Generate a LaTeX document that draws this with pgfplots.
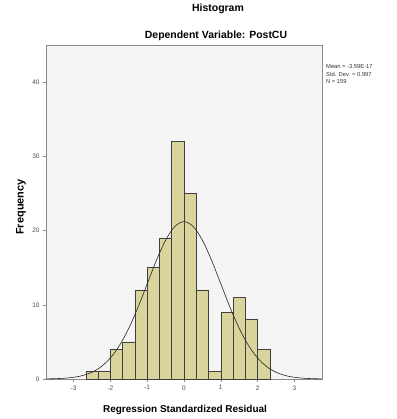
\documentclass[border=0pt]{standalone}
\usepackage{pgfplots}
\pgfplotsset{compat=1.18}
\usepackage{fontspec}
\setmainfont{Liberation Sans}
\definecolor{barfill}{HTML}{D8D49C}
\definecolor{plotbg}{HTML}{F5F5F6}
\definecolor{axgray}{HTML}{8A8A8A}
\begin{document}
\begin{tikzpicture}[x=1bp,y=1bp]
\useasboundingbox (0,0) rectangle (397,419);
\begin{axis}[
  at={(46bp,40bp)}, anchor=south west,
  scale only axis, width=276bp, height=334bp,
  xmin=-3.75, xmax=3.75, ymin=0, ymax=45,
  axis background/.style={fill=plotbg},
  axis line style={axgray, line width=0.6pt},
  xtick={-3,-2,-1,0,1,2,3}, ytick={0,10,20,30,40},
  tick align=outside, tick pos=left,
  major tick length=3bp,
  tick style={axgray, line width=0.5pt},
  ticklabel style={font=\fontsize{6.5}{7}\selectfont, text=black!70},
  /pgf/number format/assume math mode=true,
  clip=false,
]
\addplot[ybar interval, fill=barfill, draw=black!75, line width=0.5pt] coordinates {
(-2.6667,1) (-2.3333,1) (-2.0,4) (-1.6667,5) (-1.3333,12) (-1.0,15) (-0.6667,19)
(-0.3333,32) (0.0,25) (0.3333,12) (0.6667,1) (1.0,9) (1.3333,11) (1.6667,8) (2.0,4) (2.3333,4)
};
\addplot[smooth, black!85, line width=0.6pt] coordinates {
(-3.75,0.018) (-3.5,0.0447) (-3.25,0.1045) (-3.0,0.229) (-2.75,0.473) (-2.5,0.915)
(-2.25,1.66) (-2.0,2.84) (-1.75,4.54) (-1.5,6.84) (-1.25,9.66) (-1.0,12.83)
(-0.75,15.98) (-0.5,18.70) (-0.25,20.55) (0,21.21) (0.25,20.55) (0.5,18.70)
(0.75,15.98) (1.0,12.83) (1.25,9.66) (1.5,6.84) (1.75,4.54) (2.0,2.84)
(2.25,1.66) (2.5,0.915) (2.75,0.473) (3.0,0.229) (3.25,0.1045) (3.5,0.0447) (3.75,0.018)
};
\end{axis}
\node[font=\bfseries\fontsize{10.5}{12}\selectfont] at (218,410) {Histogram};
\node[font=\bfseries\fontsize{10.5}{12}\selectfont] at (216,383) {Dependent Variable: PostCU};
\node[font=\bfseries\fontsize{10}{12}\selectfont] at (185,9) {Regression Standardized Residual};
\node[font=\bfseries\fontsize{11}{12}\selectfont, rotate=90] at (21,212) {Frequency};
\node[font=\fontsize{5.8}{7.8}\selectfont, anchor=north west, align=left, inner sep=0pt, text=black!80] at (326,355) {Mean = -3.59E-17\\Std. Dev. = 0.997\\N = 159};
\end{tikzpicture}
\end{document}
